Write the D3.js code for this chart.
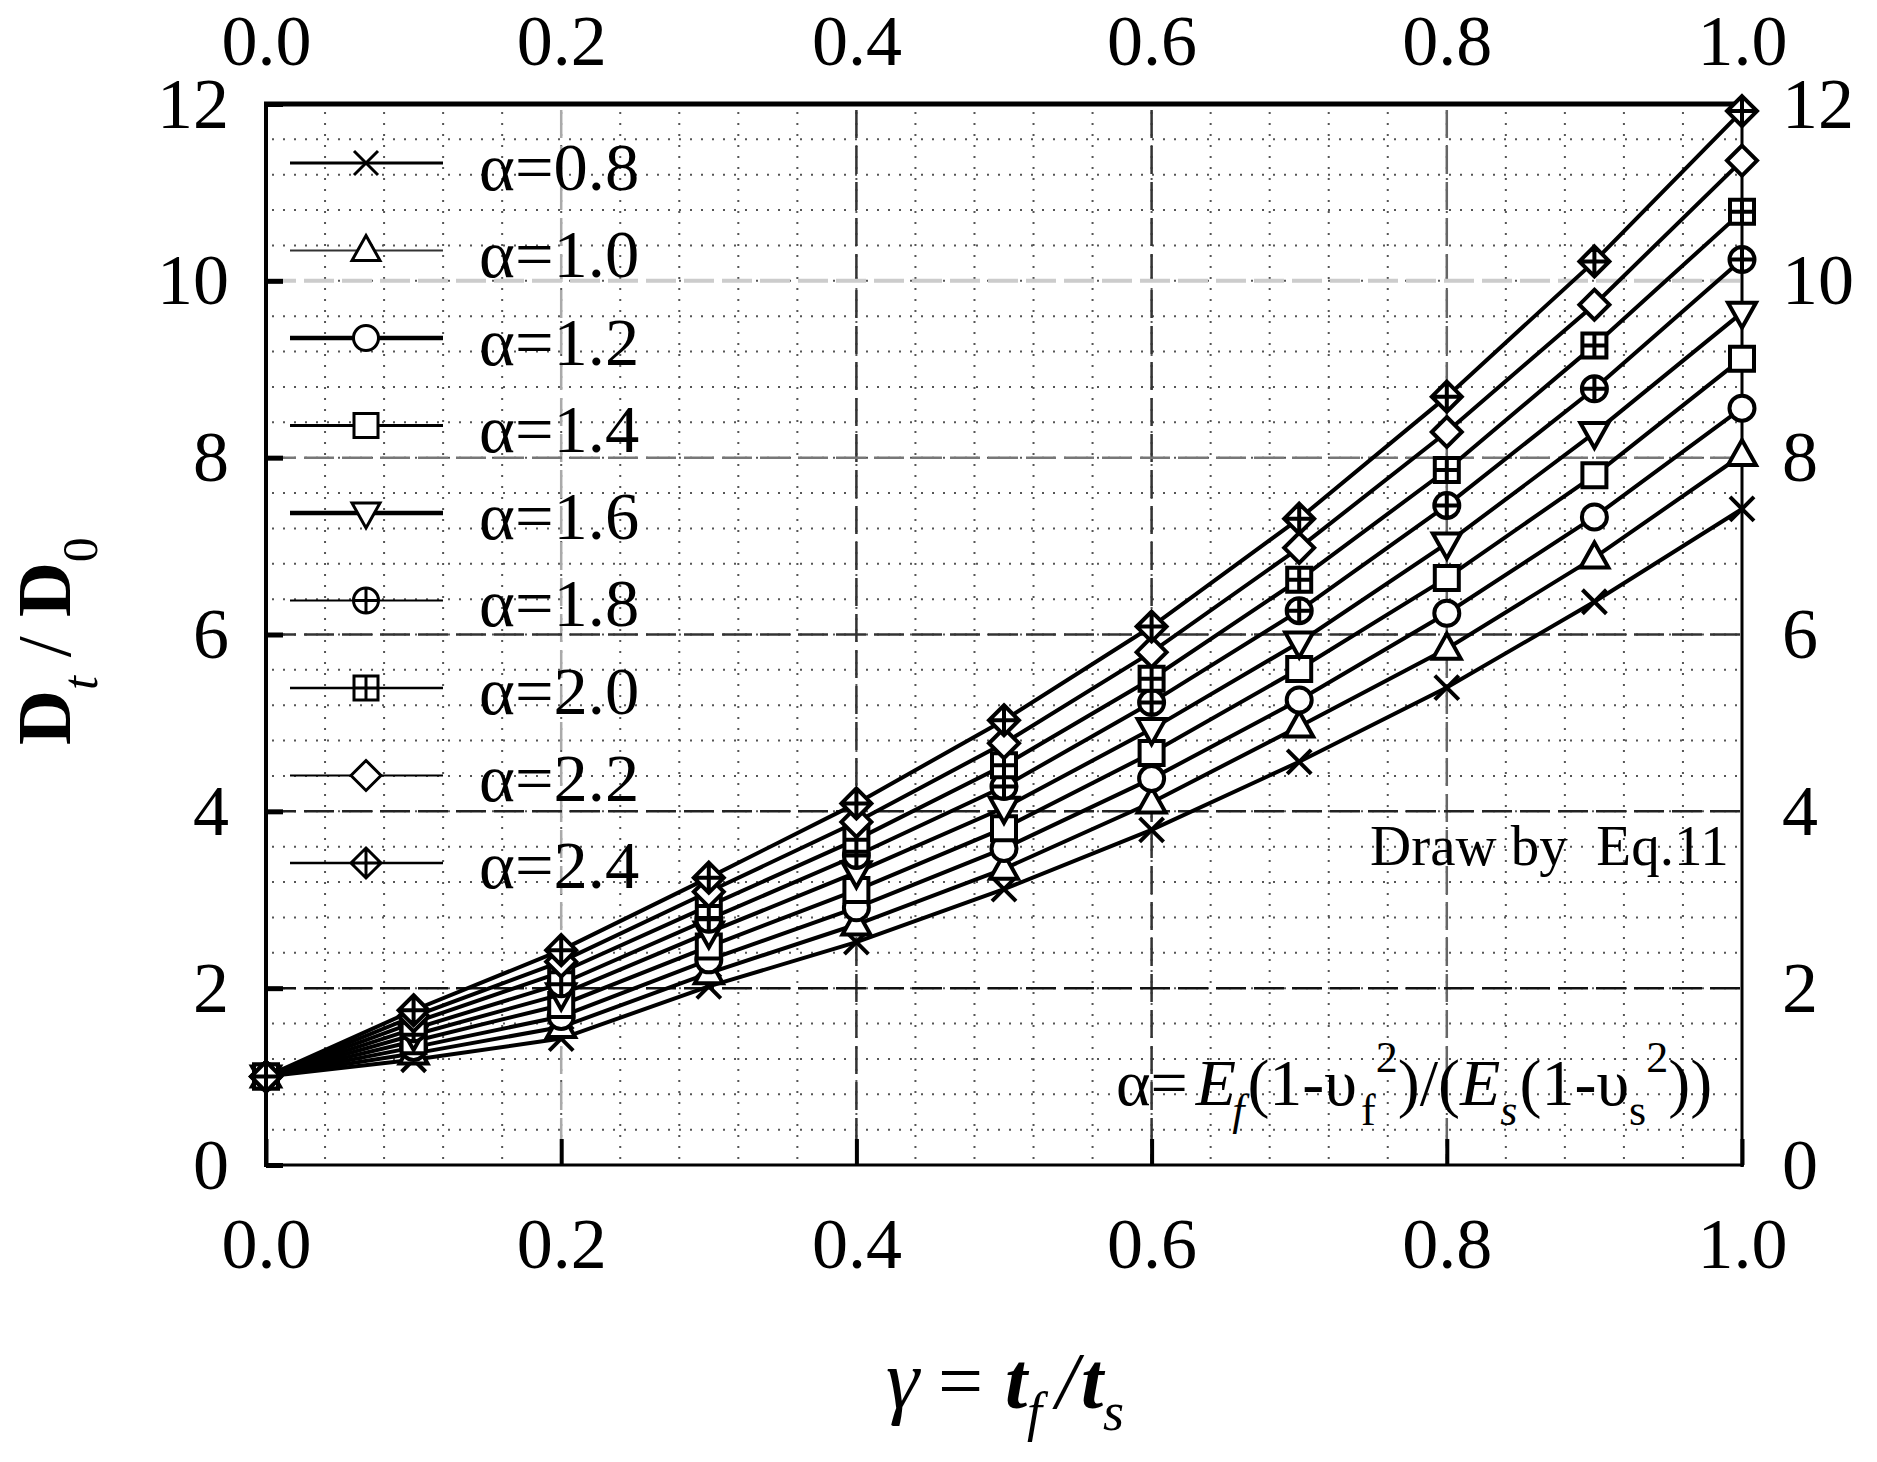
<!DOCTYPE html>
<html>
<head>
<meta charset="utf-8">
<script src="https://cdn.jsdelivr.net/npm/d3@7"></script>
<style>
  html, body { margin: 0; padding: 0; background: #fff; }
  svg { display: block; }
  text { font-family: "Liberation Serif", serif; fill: #000; }
  .axis text { font-size: 72px; }
</style>
</head>
<body>
<svg id="chart"></svg>
<script>
const gamma = [0, 0.1, 0.2, 0.3, 0.4, 0.5, 0.6, 0.7, 0.8, 0.9, 1.0];

const alpha08 = [1, 1.19, 1.43, 2.02, 2.52, 3.12, 3.79, 4.56, 5.40, 6.37, 7.42];
const alpha10 = [1, 1.26, 1.56, 2.17, 2.72, 3.35, 4.10, 4.96, 5.84, 6.87, 8.03];
const alpha12 = [1, 1.33, 1.68, 2.32, 2.91, 3.58, 4.37, 5.26, 6.24, 7.33, 8.56];
const alpha14 = [1, 1.40, 1.81, 2.47, 3.11, 3.81, 4.66, 5.61, 6.64, 7.80, 9.12];
const alpha16 = [1, 1.47, 1.93, 2.63, 3.31, 4.04, 4.93, 5.91, 7.03, 8.28, 9.64];
const alpha18 = [1, 1.54, 2.05, 2.78, 3.50, 4.28, 5.23, 6.27, 7.46, 8.78, 10.24];
const alpha20 = [1, 1.61, 2.18, 2.93, 3.68, 4.52, 5.50, 6.62, 7.86, 9.27, 10.78];
const alpha22 = [1, 1.68, 2.30, 3.09, 3.88, 4.77, 5.80, 6.98, 8.29, 9.73, 11.36];
const alpha24 = [1, 1.75, 2.43, 3.25, 4.09, 5.03, 6.09, 7.31, 8.69, 10.22, 11.92];

const seriesValues = [alpha08, alpha10, alpha12, alpha14, alpha16, alpha18, alpha20, alpha22, alpha24];
const seriesLabels = ["0.8", "1.0", "1.2", "1.4", "1.6", "1.8", "2.0", "2.2", "2.4"];
const seriesShapes = ["cross", "triangle", "circle", "square", "triangleDown", "circlePlus", "squarePlus", "diamond", "diamondPlus"];
const legendWeights = [3, 2, 4.5, 3, 4.5, 2, 2.5, 2, 2.5];

const xTicks = [0, 0.2, 0.4, 0.6, 0.8, 1.0];
const yTicks = [0, 2, 4, 6, 8, 10, 12];
const xMinor = d3.range(0.04, 1, 0.04);
const yMinor = d3.range(0.4, 12, 0.4);

// grid colours differ line by line in the scan
const yGridColors = { 2: "#111", 4: "#222", 6: "#333", 8: "#777", 10: "#ccc" };
const xGridColors = { 0.2: "#aaa", 0.4: "#333", 0.6: "#333", 0.8: "#666" };

const width = 1877, height = 1462;
const plotLeft = 266, plotRight = 1742, plotTop = 104, plotBottom = 1165;

const svg = d3.select("#chart").attr("width", width).attr("height", height);

const x = d3.scaleLinear().domain([0, 1]).range([plotLeft, plotRight]);
const y = d3.scaleLinear().domain([0, 12]).range([plotBottom, plotTop]);

const grid = svg.append("g");

grid.selectAll(".minor-x").data(xMinor).enter().append("line")
  .attr("x1", d => x(d)).attr("x2", d => x(d))
  .attr("y1", plotTop + 8).attr("y2", plotBottom)
  .attr("stroke", "#555").attr("stroke-width", 2).attr("stroke-dasharray", "2,9");

grid.selectAll(".minor-y").data(yMinor).enter().append("line")
  .attr("y1", d => y(d)).attr("y2", d => y(d))
  .attr("x1", plotLeft + 6).attr("x2", plotRight)
  .attr("stroke", "#555").attr("stroke-width", 2).attr("stroke-dasharray", "2,9");

grid.selectAll(".major-x").data(xTicks.slice(1, -1)).enter().append("line")
  .attr("x1", d => x(d)).attr("x2", d => x(d))
  .attr("y1", plotTop + 6).attr("y2", plotBottom)
  .attr("stroke", d => xGridColors[d]).attr("stroke-width", 2.5).attr("stroke-dasharray", "28,8");

grid.selectAll(".major-y").data(yTicks.slice(1, -1)).enter().append("line")
  .attr("y1", d => y(d)).attr("y2", d => y(d))
  .attr("x1", plotLeft).attr("x2", plotRight)
  .attr("stroke", d => yGridColors[d]).attr("stroke-width", d => d === 10 ? 4 : 2.5).attr("stroke-dasharray", "30,8");

// axes
const fmtX = d3.format(".1f");
const addAxis = (axis, tx, ty) => svg.append("g").attr("class", "axis")
  .attr("transform", `translate(${tx},${ty})`).call(axis)
  .call(g => g.select(".domain").remove())
  .call(g => g.selectAll("text").attr("font-family", null).attr("font-size", null))
  .attr("font-family", null).attr("font-size", null);

addAxis(d3.axisBottom(x).tickValues(xTicks).tickFormat(fmtX).tickSize(-26).tickPadding(52), 0, plotBottom)
  .call(g => g.selectAll("line").attr("stroke", "#000").attr("stroke-width", 4));
addAxis(d3.axisTop(x).tickValues(xTicks).tickFormat(fmtX).tickSize(0).tickPadding(39), 0, plotTop);
addAxis(d3.axisLeft(y).tickValues(yTicks).tickSize(-17).tickPadding(37), plotLeft, 0)
  .call(g => g.selectAll("line").attr("stroke", "#000").attr("stroke-width", 5));
addAxis(d3.axisRight(y).tickValues(yTicks).tickSize(0).tickPadding(40), plotRight, 0);

// frame, the top and left edges are heavier
const edge = (x1, y1, x2, y2, w) => svg.append("line")
  .attr("x1", x1).attr("y1", y1).attr("x2", x2).attr("y2", y2)
  .attr("stroke", "#000").attr("stroke-width", w);
edge(plotLeft - 2, plotTop, plotRight + 2, plotTop, 5);
edge(plotLeft, plotTop, plotLeft, plotBottom + 2, 4);
edge(plotLeft, plotBottom, plotRight + 2, plotBottom, 3);
edge(plotRight, plotTop, plotRight, plotBottom + 2, 3);

// markers, drawn around 0,0
const shapePaths = {
  cross: "M-12,-12L12,12M12,-12L-12,12",
  triangle: "M0,-15L14,10L-14,10Z",
  circle: "M12.5,0A12.5,12.5 0 1,1 -12.5,0A12.5,12.5 0 1,1 12.5,0Z",
  square: "M-12,-12H12V12H-12Z",
  triangleDown: "M0,15L14,-10L-14,-10Z",
  circlePlus: "M12.5,0A12.5,12.5 0 1,1 -12.5,0A12.5,12.5 0 1,1 12.5,0ZM-12.5,0H12.5M0,-12.5V12.5",
  squarePlus: "M-12,-12H12V12H-12ZM-12,0H12M0,-12V12",
  diamond: "M0,-15L15,0L0,15L-15,0Z",
  diamondPlus: "M0,-15L15,0L0,15L-15,0ZM-15,0H15M0,-15V15"
};

const line = d3.line().x((d, i) => x(gamma[i])).y(d => y(d));

seriesValues.forEach((values, s) => {
  const g = svg.append("g");
  g.append("path")
    .attr("d", line(values))
    .attr("fill", "none").attr("stroke", "#000").attr("stroke-width", 4);
  g.selectAll("path.mark").data(values).enter().append("path")
    .attr("class", "mark")
    .attr("transform", (d, i) => `translate(${x(gamma[i])},${y(d)})`)
    .attr("d", shapePaths[seriesShapes[s]])
    .attr("fill", seriesShapes[s] === "cross" ? "none" : "#fff")
    .attr("stroke", "#000").attr("stroke-width", 4);
});

// legend
const legendLineY = d3.scaleLinear().domain([0, 8]).range([163, 863]);
const legendTextY = d3.scaleLinear().domain([0, 8]).range([190, 888]);
const legend = svg.append("g");
seriesLabels.forEach((label, s) => {
  legend.append("line")
    .attr("x1", 290).attr("x2", 443)
    .attr("y1", legendLineY(s)).attr("y2", legendLineY(s))
    .attr("stroke", s === 1 ? "#333" : "#000").attr("stroke-width", legendWeights[s]);
  legend.append("path")
    .attr("transform", `translate(366,${legendLineY(s)})`)
    .attr("d", shapePaths[seriesShapes[s]])
    .attr("fill", seriesShapes[s] === "cross" ? "none" : "#fff")
    .attr("stroke", "#000").attr("stroke-width", 3);
  legend.append("text")
    .attr("x", 479).attr("y", legendTextY(s))
    .attr("font-size", 68.5)
    .text(`\u03b1=${label}`);
});

// notes
svg.append("text").attr("x", 1370).attr("y", 865).attr("font-size", 57)
  .style("white-space", "pre").text("Draw by  Eq.11");

const formula = svg.append("text").attr("x", 1116).attr("y", 1105).attr("font-size", 66);
const part = (t, opts = {}) => {
  const sp = formula.append("tspan").text(t);
  if (opts.italic) sp.attr("font-style", "italic");
  if (opts.size) sp.attr("font-size", opts.size);
  if (opts.dy) sp.attr("dy", opts.dy);
  if (opts.dx) sp.attr("dx", opts.dx);
};
part("\u03b1=");
part("E", { italic: true, dx: 8 });
part("f", { italic: true, size: 44, dy: 20, dx: -4 });
part("(1-\u03c5", { dy: -20, dx: 3 });
part("f", { size: 44, dy: 20, dx: 4 });
part("2", { size: 44, dy: -53 });
part(")/(", { dy: 33 });
part("E", { italic: true });
part("s", { italic: true, size: 44, dy: 20 });
part("(1-\u03c5", { dy: -20, dx: 2 });
part("s", { size: 44, dy: 20 });
part("2", { size: 44, dy: -53 });
part("))", { dy: 33 });

// axis titles
const yTitle = svg.append("text")
  .attr("transform", "translate(70,745) rotate(-90)")
  .attr("font-size", 76);
yTitle.append("tspan").attr("font-weight", "bold").text("D");
yTitle.append("tspan").attr("font-style", "italic").attr("font-size", 50).attr("dy", 27).text("t");
yTitle.append("tspan").attr("dy", -27).text(" / ");
yTitle.append("tspan").attr("font-weight", "bold").text("D");
yTitle.append("tspan").attr("font-size", 50).attr("dy", 27).text("0");

const xTitle = svg.append("text").attr("y", 1408)
  .attr("font-size", 80).attr("font-style", "italic");
xTitle.append("tspan").attr("x", 886).attr("font-size", 84).text("\u03b3");
xTitle.append("tspan").attr("x", 938).attr("font-style", "normal").text("=");
xTitle.append("tspan").attr("x", 1005).attr("font-weight", "bold").text("t");
xTitle.append("tspan").attr("x", 1027).attr("font-size", 54).attr("dy", 22).text("f");
xTitle.append("tspan").attr("x", 1056).attr("dy", -22).text("/");
xTitle.append("tspan").attr("x", 1081).attr("font-weight", "bold").text("t");
xTitle.append("tspan").attr("x", 1103).attr("font-size", 54).attr("dy", 22).text("s");
</script>
</body>
</html>
